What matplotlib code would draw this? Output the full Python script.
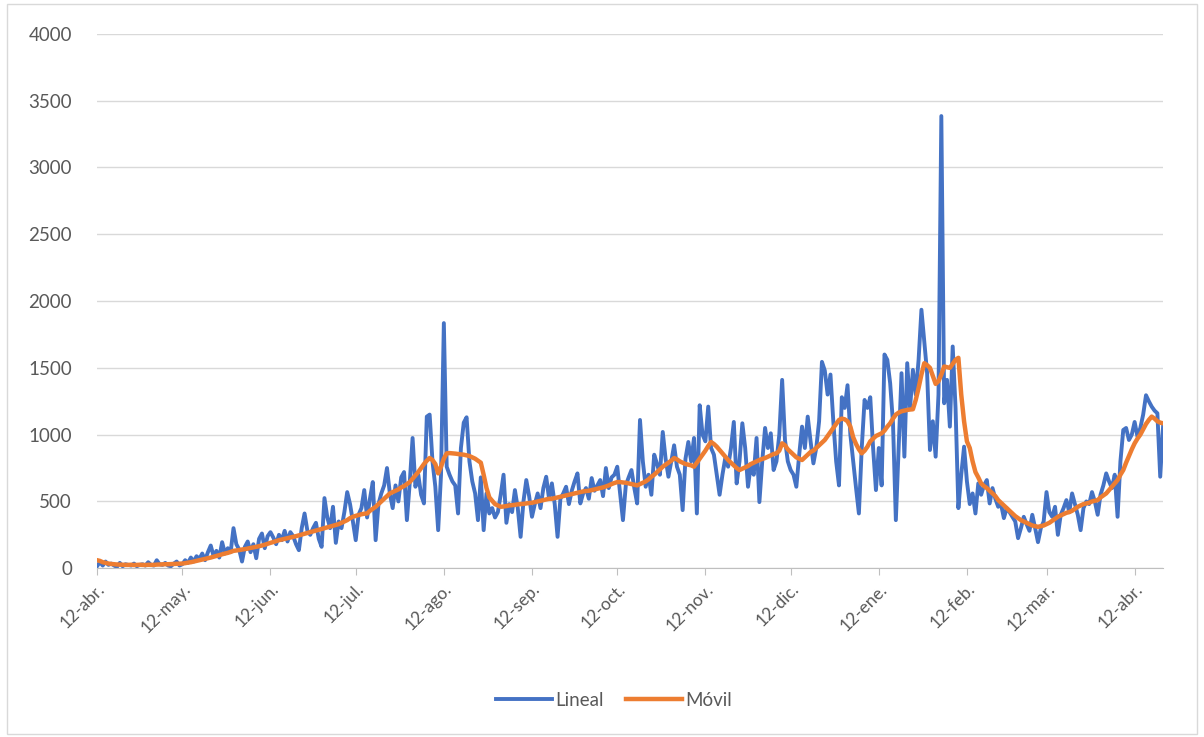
import matplotlib
matplotlib.use("Agg")
import matplotlib.pyplot as plt
import matplotlib.patches as mpatches
import numpy as np
import pandas as pd

plt.rcParams["font.family"] = ["Lato", "DejaVu Sans"]

# Daily values, starting 12-abr-2020
lineal = [
    # 12-abr .. 12-may
    15, 45, 20, 50, 25, 35, 20, 10, 40, 15, 30, 25, 20, 35, 15, 25, 30, 20, 45, 25,
    20, 60, 30, 25, 40, 20, 15, 35, 50, 20, 30,
    # .. 12-jun
    60, 40, 80, 50, 90, 70, 110, 60, 120, 170, 90, 130, 80, 195, 110, 150, 120, 300,
    180, 140, 50, 160, 200, 120, 180, 75, 220, 260, 150, 240, 270,
    # .. 12-jul
    230, 180, 250, 210, 280, 200, 270, 240, 180, 135, 300, 410, 280, 250, 300, 340,
    220, 160, 525, 380, 300, 460, 190, 350, 300, 420, 570, 480, 350, 210,
    # .. 12-ago
    400, 450, 585, 380, 520, 645, 210, 480, 560, 620, 750, 560, 450, 620, 500, 680,
    720, 360, 640, 975, 610, 700, 550, 485, 1135, 1150, 800, 610, 285, 700, 1835,
    # .. 12-sep
    760, 700, 650, 620, 410, 900, 1090, 1130, 800, 650, 560, 360, 680, 285, 560,
    410, 450, 380, 420, 550, 700, 340, 480, 420, 585, 450, 235, 500, 660, 540, 385,
    # .. 12-oct / nov
    480, 560, 450, 600, 685, 520, 635, 480, 235, 520, 560, 610, 480, 580, 650, 710,
    485, 560, 600, 520, 675, 580, 620, 660, 540, 750, 600, 680, 700, 760, 560, 360,
    620, 680, 735, 600, 485,
    1110, 800, 610, 700, 550, 850, 780, 700, 1020, 820, 685, 800, 920, 760, 700, 435,
    820, 945, 800, 975, 410, 1220, 1000, 950, 1210, 900, 850, 700, 550, 700, 825, 760,
    900, 1095, 635, 800, 1085, 900, 610, 780, 700, 975, 495, 800, 1050,
    # dic .. ene
    900, 1010, 735, 800, 1000, 1410, 960, 800, 735, 700, 610, 850, 1060, 900, 1135,
    950, 785, 900, 1100, 1545, 1480, 1300, 1450, 1100, 800, 620, 1280, 1200, 1370,
    1000, 800, 600, 410, 900, 1260, 1200, 1280, 900,
    585, 900, 620, 1600, 1560, 1385, 1085, 360, 900, 1460, 835, 1535, 1200, 1485,
    1300, 1560, 1935, 1700, 1460, 885, 1100, 835, 1300, 3385, 1235, 1410, 1060, 1660,
    1200, 450, 700, 910,
    # feb .. abr-2021
    650, 480, 560, 410, 635, 550, 620, 660, 485, 600, 520, 460, 480, 375, 450, 420,
    385, 350, 225, 300, 385, 330, 280, 400, 300, 195, 300, 350, 570, 420, 385, 460,
    250, 400, 450, 510, 420, 560, 480, 400, 285, 450, 500, 480, 570, 500, 400, 550,
    620, 710, 650, 600, 700, 385, 800, 1035, 1050, 960, 1000, 1095, 985, 1050, 1150,
    1295, 1250, 1210, 1180, 1160, 685, 1060,
]

movil = [
    60, 55, 45, 40, 35, 32, 30, 28, 27, 26, 25,
    25, 26, 24, 25, 26, 25, 24, 26, 25, 25,
    27, 28, 29, 30, 30, 31, 32, 33, 34, 35,
    38, 42, 45, 50, 55, 60, 65, 70, 75, 80,
    86, 92, 98, 104, 110, 115, 122, 130, 133, 136,
    140, 143, 147, 152, 156, 160, 165, 170, 176, 183, 190,
    196, 203, 210, 215, 220, 225, 230, 235, 240,
    246, 252, 258, 264, 270, 276, 282, 288, 294, 300,
    306, 312, 318, 324, 330, 340, 350, 360, 375, 385,
    392, 398, 404, 408, 410, 430, 445, 460, 480, 500,
    520, 540, 560, 570, 580, 590, 605, 615, 630, 645,
    670, 695, 720, 750, 780, 805, 825, 810, 780, 710,
    760, 820, 860, 862, 860, 858, 855, 852, 850, 845,
    840, 830, 820, 805, 790, 700, 600, 530, 505, 480, 470, 460,
    462, 465, 470, 472, 475, 478, 480, 482,
    485, 488, 490, 495, 500, 505, 510, 515, 520, 520,
    525, 530, 535, 540, 545, 550, 555, 560, 565, 570,
    575, 578, 580, 585, 590, 595, 600, 605, 612, 620,
    630, 638, 645, 645, 642, 640, 635, 630, 625, 620,
    630, 640, 650, 665, 685, 700, 720, 740, 760, 775,
    790, 805, 825, 815, 800, 790, 780, 775, 770, 760,
    790, 820, 850, 880, 915, 945, 930, 910, 885, 860,
    835, 810, 790, 770, 750, 735, 745, 755, 765, 780,
    790, 800, 810, 818, 825, 835, 845, 855, 860, 880,
    935, 920, 890, 870, 850, 830, 820, 810, 830, 850,
    870, 880, 900, 920, 940, 960, 990, 1020, 1050, 1080,
    1110, 1120, 1115, 1100, 1060, 980, 930, 890, 860, 880,
    910, 950, 970, 990, 1000, 1010, 1030, 1060, 1085, 1120,
    1150, 1165, 1175, 1180, 1185, 1188, 1190, 1260, 1350, 1450,
    1535, 1520, 1500, 1440, 1380, 1400, 1450, 1510, 1505, 1500,
    1530, 1560, 1575, 1300, 1100, 950, 900, 800, 720, 680,
    635, 615, 600, 580, 560, 540, 510, 490, 470, 450,
    430, 410, 390, 375, 360, 350, 340, 330, 320, 315,
    310, 315, 320, 330, 340, 355, 370, 385, 395, 405,
    415, 420, 430, 445, 460, 470, 480, 485, 490, 500,
    505, 510, 530, 545, 560, 585, 610, 635, 660, 700,
    735, 790, 840, 890, 935, 970, 1000, 1040, 1080, 1110,
    1135, 1120, 1100, 1090, 1085,
]

tick_dates = ["2020-04-12", "2020-05-12", "2020-06-12", "2020-07-12", "2020-08-12",
              "2020-09-12", "2020-10-12", "2020-11-12", "2020-12-12", "2021-01-12",
              "2021-02-12", "2021-03-12", "2021-04-12"]
tick_labels = ["12-abr.", "12-may.", "12-jun.", "12-jul.", "12-ago.", "12-sep.",
               "12-oct.", "12-nov.", "12-dic.", "12-ene.", "12-feb.", "12-mar.",
               "12-abr."]

start = pd.Timestamp("2020-04-12")
dates_l = pd.date_range(start, periods=len(lineal), freq="D")
dates_m = pd.date_range(start, periods=len(movil), freq="D")

BLUE = "#4472C4"
ORANGE = "#ED7D31"
GREY = "#595959"

fig = plt.figure(figsize=(12.04, 7.37), dpi=100)
fig.patches.append(mpatches.Rectangle((0.006, 0.004), 0.988, 0.99, transform=fig.transFigure,
                                      fill=False, edgecolor="#d9d9d9", lw=1))
ax = fig.add_axes([0.0806, 0.229, 0.8854, 0.725])

ax.plot(dates_l, lineal, color=BLUE, lw=2.8, label="Lineal", solid_joinstyle="round")
ax.plot(dates_m, movil, color=ORANGE, lw=3.2, label="Móvil", solid_joinstyle="round")

ax.set_ylim(0, 4000)
ax.set_yticks(range(0, 4001, 500))
ax.set_xlim(start, max(dates_l[-1], dates_m[-1]))
ax.set_xticks(pd.to_datetime(tick_dates))
ax.set_xticklabels(tick_labels, rotation=45, ha="right", rotation_mode="anchor")

ax.grid(axis="y", color="#d9d9d9", lw=1)
ax.set_axisbelow(True)
for s in ["top", "right", "left"]:
    ax.spines[s].set_visible(False)
ax.spines["bottom"].set_color("#bfbfbf")
ax.tick_params(axis="y", length=0, pad=18, labelsize=13.5, labelcolor=GREY)
ax.tick_params(axis="x", length=5, color="#bfbfbf", pad=4, labelsize=12.5, labelcolor=GREY)

fig.legend(loc="center", bbox_to_anchor=(0.51, 0.05), ncol=2, frameon=False,
           fontsize=13.5, labelcolor=GREY, handlelength=3, columnspacing=1.2,
           handletextpad=0.15)

fig.savefig("out.png", dpi=100)
